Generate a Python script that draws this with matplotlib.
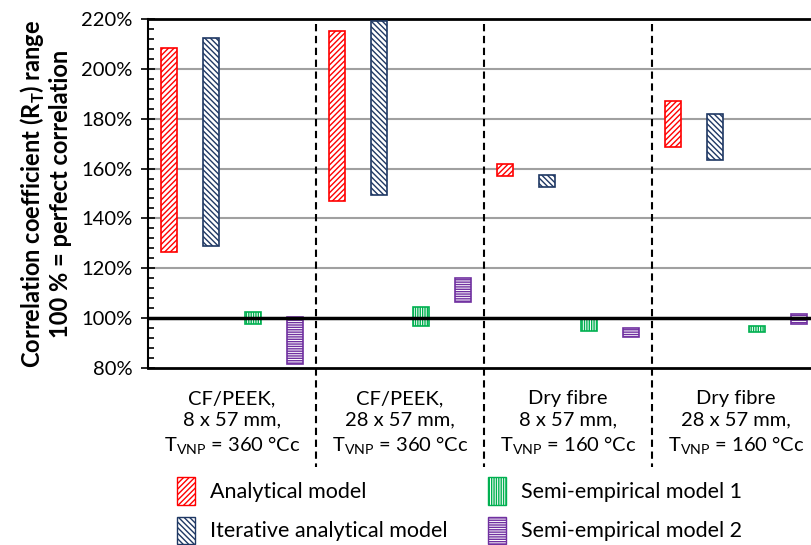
import matplotlib
matplotlib.use("Agg")
import matplotlib.pyplot as plt
import numpy as np
from matplotlib.patches import Patch
from matplotlib.transforms import blended_transform_factory

plt.rcParams['font.family'] = ['Lato', 'DejaVu Sans']
plt.rcParams['mathtext.fontset'] = 'custom'
plt.rcParams['mathtext.rm'] = 'Lato'
plt.rcParams['mathtext.bf'] = 'Lato:bold'
plt.rcParams['hatch.linewidth'] = 1.0

# data
groups = [
    "CF/PEEK,\n8 x 57 mm,\nT$_\\mathregular{VNP}$ = 360 °Cc",
    "CF/PEEK,\n28 x 57 mm,\nT$_\\mathregular{VNP}$ = 360 °Cc",
    "Dry fibre\n8 x 57 mm,\nT$_\\mathregular{VNP}$ = 160 °Cc",
    "Dry fibre\n28 x 57 mm,\nT$_\\mathregular{VNP}$ = 160 °Cc",
]
models = ["Analytical model", "Iterative analytical model",
          "Semi-empirical model 1", "Semi-empirical model 2"]
# range low / high per model, per group (%)
analytical_low = [126.5, 147.0, 157.0, 168.5]
analytical_high = [208.5, 215.0, 162.0, 187.0]
iterative_low = [129.0, 149.5, 152.5, 163.5]
iterative_high = [212.5, 219.0, 157.5, 182.0]
semi1_low = [97.5, 97.0, 95.0, 94.5]
semi1_high = [102.5, 104.5, 99.5, 97.0]
semi2_low = [81.5, 106.5, 92.5, 97.5]
semi2_high = [100.5, 116.0, 96.0, 101.5]
y_ticks = [80, 100, 120, 140, 160, 180, 200, 220]

lows = [analytical_low, iterative_low, semi1_low, semi2_low]
highs = [analytical_high, iterative_high, semi1_high, semi2_high]
colors = ['#FF0000', '#1F3864', '#00B050', '#7030A0']
hatches = ['//////', '\\\\\\\\\\\\', '|||||||', '-------']
offsets = [-0.375, -0.125, 0.125, 0.375]

fig = plt.figure(figsize=(8.12, 5.45), dpi=100)
ax = fig.add_axes([148 / 812, (545 - 368) / 545, 672 / 812, 349 / 545])

x = np.arange(len(groups))
for lo, hi, c, h, off in zip(lows, highs, colors, hatches, offsets):
    lo = np.array(lo)
    hi = np.array(hi)
    ax.bar(x + off, hi - lo, bottom=lo, width=0.1, facecolor='white',
           edgecolor=c, hatch=h, linewidth=1.2, zorder=3)

ax.set_xlim(-0.5, len(groups) - 0.5)
ax.set_ylim(80, 220)
ax.set_yticks(y_ticks)
ax.set_yticklabels([f"{v}%" for v in y_ticks], fontsize=14.5)
ax.set_yticks(np.arange(80, 221, 4), minor=True)
ax.tick_params(axis='y', which='major', direction='inout', length=10, width=1.2, pad=6)
ax.tick_params(axis='y', which='minor', direction='in', length=4.5, width=1.2)

ax.set_xticks(x)
ax.set_xticklabels(groups, fontsize=14.5, linespacing=1.33)
ax.tick_params(axis='x', length=0, pad=16)

for v in y_ticks[2:-1]:
    ax.axhline(v, color='#A0A0A0', lw=1.5, zorder=1)
ax.axhline(100, color='black', lw=2.5, zorder=4)

ax.spines['right'].set_visible(False)
ax.spines['left'].set_linewidth(1.5)
ax.spines['top'].set_linewidth(2)
ax.spines['bottom'].set_linewidth(2)

trans = blended_transform_factory(ax.transData, ax.transAxes)
for sep in x[:-1] + 0.5:
    ax.plot([sep, sep], [0.985, -0.285], transform=trans, color='black',
            lw=1.5, dashes=(3.5, 2.2), clip_on=False, zorder=2)

ax.set_ylabel("Correlation coefficient (R$_\\mathregular{T}$) range\n100 % = perfect correlation",
              fontsize=17, fontweight='bold', linespacing=1.1)
ax.yaxis.set_label_coords(-0.113, 0.5)

handles = [Patch(facecolor='white', edgecolor=c, hatch=h, linewidth=1.0)
           for c, h in zip(colors, hatches)]
leg_kw = dict(frameon=False, loc='upper left', fontsize=15.5, borderpad=0,
              borderaxespad=0, handlelength=0.84, handleheight=1.6,
              handletextpad=0.7, labelspacing=0.55)
leg1 = fig.legend(handles[:2], models[:2], bbox_to_anchor=(177 / 812, 1 - 477 / 545), **leg_kw)
leg2 = fig.legend(handles[2:], models[2:], bbox_to_anchor=(488 / 812, 1 - 477 / 545), **leg_kw)

fig.savefig("out.png", dpi=100)
